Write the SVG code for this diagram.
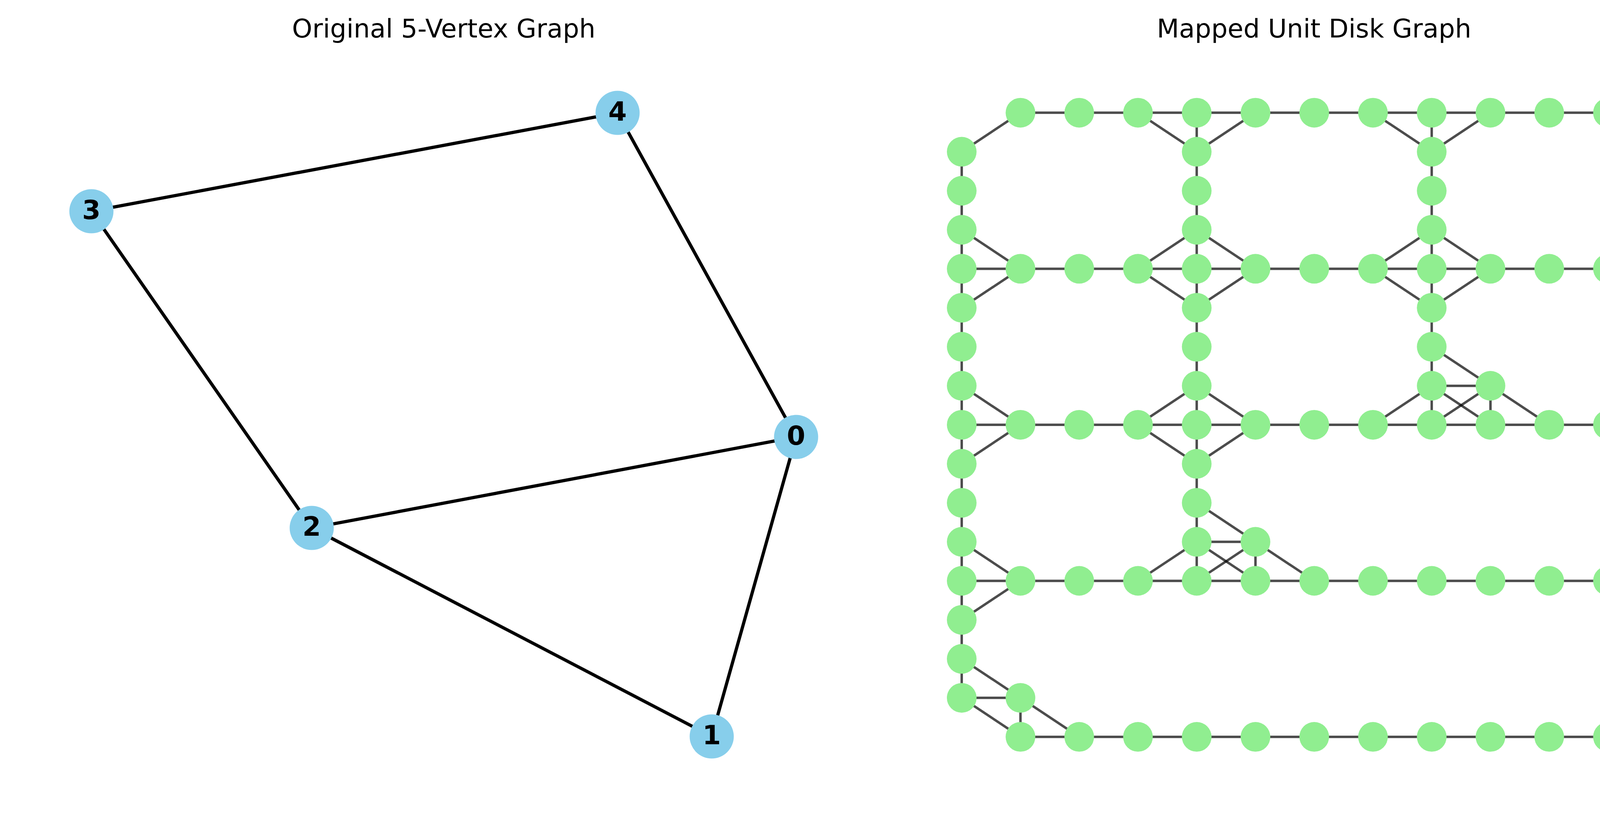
<svg xmlns="http://www.w3.org/2000/svg" width="4500" height="2100" viewBox="0 0 4500 2100">
<style>
.title{font-family:"DejaVu Sans","Liberation Sans",sans-serif;font-size:66px;fill:#000;text-anchor:middle}
.lbl{font-family:"DejaVu Sans","Liberation Sans",sans-serif;font-size:68px;font-weight:bold;fill:#000;text-anchor:middle}
.e1 line{stroke:#000;stroke-width:8.3}
.e2 line{stroke:#000;stroke-opacity:0.7;stroke-width:6.25}
.n1{fill:#87CEEB}
.n2{fill:#90EE90}
</style>
<rect width="4500" height="2100" fill="#fff"/>
<text class="title" x="1136" y="96">Original 5-Vertex Graph</text>
<text class="title" x="3364" y="96">Mapped Unit Disk Graph</text>

<g id="edges-original" class="e1">
<line x1="234" y1="541" x2="1581" y2="289"/>
<line x1="1581" y1="289" x2="2038" y2="1119"/>
<line x1="234" y1="541" x2="798" y2="1352"/>
<line x1="798" y1="1352" x2="2038" y2="1119"/>
<line x1="798" y1="1352" x2="1822" y2="1886"/>
<line x1="2038" y1="1119" x2="1822" y2="1886"/>
</g>
<g id="v0"><circle class="n1" cx="2038" cy="1119" r="56.5"/><text class="lbl" x="2038" y="1139">0</text></g>
<g id="v1"><circle class="n1" cx="1822" cy="1886" r="56.5"/><text class="lbl" x="1822" y="1906">1</text></g>
<g id="v2"><circle class="n1" cx="798" cy="1352" r="56.5"/><text class="lbl" x="798" y="1372">2</text></g>
<g id="v3"><circle class="n1" cx="234" cy="541" r="56.5"/><text class="lbl" x="234" y="561">3</text></g>
<g id="v4"><circle class="n1" cx="1581" cy="289" r="56.5"/><text class="lbl" x="1581" y="309">4</text></g>

<g id="edges-udg" class="e2">
<!-- row 0 -->
<line x1="2612.4" y1="288.7" x2="2762.8" y2="288.7"/>
<line x1="2762.8" y1="288.7" x2="2913.2" y2="288.7"/>
<line x1="2913.2" y1="288.7" x2="3063.6" y2="288.7"/>
<line x1="3063.6" y1="288.7" x2="3214" y2="288.7"/>
<line x1="3214" y1="288.7" x2="3364.4" y2="288.7"/>
<line x1="3364.4" y1="288.7" x2="3514.8" y2="288.7"/>
<line x1="3514.8" y1="288.7" x2="3665.2" y2="288.7"/>
<line x1="3665.2" y1="288.7" x2="3815.6" y2="288.7"/>
<line x1="3815.6" y1="288.7" x2="3966" y2="288.7"/>
<line x1="3966" y1="288.7" x2="4116.4" y2="288.7"/>
<line x1="4116.4" y1="288.7" x2="4266.8" y2="288.7"/>
<!-- row 4 -->
<line x1="2462" y1="688.3" x2="2612.4" y2="688.3"/>
<line x1="2612.4" y1="688.3" x2="2762.8" y2="688.3"/>
<line x1="2762.8" y1="688.3" x2="2913.2" y2="688.3"/>
<line x1="2913.2" y1="688.3" x2="3063.6" y2="688.3"/>
<line x1="3063.6" y1="688.3" x2="3214" y2="688.3"/>
<line x1="3214" y1="688.3" x2="3364.4" y2="688.3"/>
<line x1="3364.4" y1="688.3" x2="3514.8" y2="688.3"/>
<line x1="3514.8" y1="688.3" x2="3665.2" y2="688.3"/>
<line x1="3665.2" y1="688.3" x2="3815.6" y2="688.3"/>
<line x1="3815.6" y1="688.3" x2="3966" y2="688.3"/>
<line x1="3966" y1="688.3" x2="4116.4" y2="688.3"/>
<line x1="4116.4" y1="688.3" x2="4266.8" y2="688.3"/>
<!-- row 8 -->
<line x1="2462" y1="1087.9" x2="2612.4" y2="1087.9"/>
<line x1="2612.4" y1="1087.9" x2="2762.8" y2="1087.9"/>
<line x1="2762.8" y1="1087.9" x2="2913.2" y2="1087.9"/>
<line x1="2913.2" y1="1087.9" x2="3063.6" y2="1087.9"/>
<line x1="3063.6" y1="1087.9" x2="3214" y2="1087.9"/>
<line x1="3214" y1="1087.9" x2="3364.4" y2="1087.9"/>
<line x1="3364.4" y1="1087.9" x2="3514.8" y2="1087.9"/>
<line x1="3514.8" y1="1087.9" x2="3665.2" y2="1087.9"/>
<line x1="3665.2" y1="1087.9" x2="3815.6" y2="1087.9"/>
<line x1="3815.6" y1="1087.9" x2="3966" y2="1087.9"/>
<line x1="3966" y1="1087.9" x2="4116.4" y2="1087.9"/>
<line x1="4116.4" y1="1087.9" x2="4266.8" y2="1087.9"/>
<!-- row 12 -->
<line x1="2462" y1="1487.5" x2="2612.4" y2="1487.5"/>
<line x1="2612.4" y1="1487.5" x2="2762.8" y2="1487.5"/>
<line x1="2762.8" y1="1487.5" x2="2913.2" y2="1487.5"/>
<line x1="2913.2" y1="1487.5" x2="3063.6" y2="1487.5"/>
<line x1="3063.6" y1="1487.5" x2="3214" y2="1487.5"/>
<line x1="3214" y1="1487.5" x2="3364.4" y2="1487.5"/>
<line x1="3364.4" y1="1487.5" x2="3514.8" y2="1487.5"/>
<line x1="3514.8" y1="1487.5" x2="3665.2" y2="1487.5"/>
<line x1="3665.2" y1="1487.5" x2="3815.6" y2="1487.5"/>
<line x1="3815.6" y1="1487.5" x2="3966" y2="1487.5"/>
<line x1="3966" y1="1487.5" x2="4116.4" y2="1487.5"/>
<line x1="4116.4" y1="1487.5" x2="4266.8" y2="1487.5"/>
<!-- row 16 -->
<line x1="2612.4" y1="1887.1" x2="2762.8" y2="1887.1"/>
<line x1="2762.8" y1="1887.1" x2="2913.2" y2="1887.1"/>
<line x1="2913.2" y1="1887.1" x2="3063.6" y2="1887.1"/>
<line x1="3063.6" y1="1887.1" x2="3214" y2="1887.1"/>
<line x1="3214" y1="1887.1" x2="3364.4" y2="1887.1"/>
<line x1="3364.4" y1="1887.1" x2="3514.8" y2="1887.1"/>
<line x1="3514.8" y1="1887.1" x2="3665.2" y2="1887.1"/>
<line x1="3665.2" y1="1887.1" x2="3815.6" y2="1887.1"/>
<line x1="3815.6" y1="1887.1" x2="3966" y2="1887.1"/>
<line x1="3966" y1="1887.1" x2="4116.4" y2="1887.1"/>
<line x1="4116.4" y1="1887.1" x2="4266.8" y2="1887.1"/>
<!-- short horizontals -->
<line x1="3665.2" y1="988" x2="3815.6" y2="988"/>
<line x1="3063.6" y1="1387.6" x2="3214" y2="1387.6"/>
<line x1="2462" y1="1787.2" x2="2612.4" y2="1787.2"/>
<!-- col 0 -->
<line x1="2462" y1="388.6" x2="2462" y2="488.5"/>
<line x1="2462" y1="488.5" x2="2462" y2="588.4"/>
<line x1="2462" y1="588.4" x2="2462" y2="688.3"/>
<line x1="2462" y1="688.3" x2="2462" y2="788.2"/>
<line x1="2462" y1="788.2" x2="2462" y2="888.1"/>
<line x1="2462" y1="888.1" x2="2462" y2="988"/>
<line x1="2462" y1="988" x2="2462" y2="1087.9"/>
<line x1="2462" y1="1087.9" x2="2462" y2="1187.8"/>
<line x1="2462" y1="1187.8" x2="2462" y2="1287.7"/>
<line x1="2462" y1="1287.7" x2="2462" y2="1387.6"/>
<line x1="2462" y1="1387.6" x2="2462" y2="1487.5"/>
<line x1="2462" y1="1487.5" x2="2462" y2="1587.4"/>
<line x1="2462" y1="1587.4" x2="2462" y2="1687.3"/>
<line x1="2462" y1="1687.3" x2="2462" y2="1787.2"/>
<!-- col 4 -->
<line x1="3063.6" y1="288.7" x2="3063.6" y2="388.6"/>
<line x1="3063.6" y1="388.6" x2="3063.6" y2="488.5"/>
<line x1="3063.6" y1="488.5" x2="3063.6" y2="588.4"/>
<line x1="3063.6" y1="588.4" x2="3063.6" y2="688.3"/>
<line x1="3063.6" y1="688.3" x2="3063.6" y2="788.2"/>
<line x1="3063.6" y1="788.2" x2="3063.6" y2="888.1"/>
<line x1="3063.6" y1="888.1" x2="3063.6" y2="988"/>
<line x1="3063.6" y1="988" x2="3063.6" y2="1087.9"/>
<line x1="3063.6" y1="1087.9" x2="3063.6" y2="1187.8"/>
<line x1="3063.6" y1="1187.8" x2="3063.6" y2="1287.7"/>
<line x1="3063.6" y1="1287.7" x2="3063.6" y2="1387.6"/>
<line x1="3063.6" y1="1387.6" x2="3063.6" y2="1487.5"/>
<!-- col 8 -->
<line x1="3665.2" y1="288.7" x2="3665.2" y2="388.6"/>
<line x1="3665.2" y1="388.6" x2="3665.2" y2="488.5"/>
<line x1="3665.2" y1="488.5" x2="3665.2" y2="588.4"/>
<line x1="3665.2" y1="588.4" x2="3665.2" y2="688.3"/>
<line x1="3665.2" y1="688.3" x2="3665.2" y2="788.2"/>
<line x1="3665.2" y1="788.2" x2="3665.2" y2="888.1"/>
<line x1="3665.2" y1="888.1" x2="3665.2" y2="988"/>
<line x1="3665.2" y1="988" x2="3665.2" y2="1087.9"/>
<!-- col 12 -->
<line x1="4266.8" y1="288.7" x2="4266.8" y2="388.6"/>
<line x1="4266.8" y1="388.6" x2="4266.8" y2="488.5"/>
<line x1="4266.8" y1="488.5" x2="4266.8" y2="588.4"/>
<line x1="4266.8" y1="588.4" x2="4266.8" y2="688.3"/>
<!-- short verticals -->
<line x1="2612.4" y1="1787.2" x2="2612.4" y2="1887.1"/>
<line x1="3214" y1="1387.6" x2="3214" y2="1487.5"/>
<line x1="3815.6" y1="988" x2="3815.6" y2="1087.9"/>
<!-- diagonals -->
<line x1="2612.4" y1="288.7" x2="2462" y2="388.6"/>
<line x1="2913.2" y1="288.7" x2="3063.6" y2="388.6"/>
<line x1="3214" y1="288.7" x2="3063.6" y2="388.6"/>
<line x1="3514.8" y1="288.7" x2="3665.2" y2="388.6"/>
<line x1="3815.6" y1="288.7" x2="3665.2" y2="388.6"/>
<line x1="4116.4" y1="288.7" x2="4266.8" y2="388.6"/>
<line x1="2462" y1="588.4" x2="2612.4" y2="688.3"/>
<line x1="3063.6" y1="588.4" x2="2913.2" y2="688.3"/>
<line x1="3063.6" y1="588.4" x2="3214" y2="688.3"/>
<line x1="3665.2" y1="588.4" x2="3514.8" y2="688.3"/>
<line x1="3665.2" y1="588.4" x2="3815.6" y2="688.3"/>
<line x1="4266.8" y1="588.4" x2="4116.4" y2="688.3"/>
<line x1="2462" y1="788.2" x2="2612.4" y2="688.3"/>
<line x1="3063.6" y1="788.2" x2="2913.2" y2="688.3"/>
<line x1="3063.6" y1="788.2" x2="3214" y2="688.3"/>
<line x1="3665.2" y1="788.2" x2="3514.8" y2="688.3"/>
<line x1="3665.2" y1="788.2" x2="3815.6" y2="688.3"/>
<line x1="3665.2" y1="888.1" x2="3815.6" y2="988"/>
<line x1="2462" y1="988" x2="2612.4" y2="1087.9"/>
<line x1="3063.6" y1="988" x2="2913.2" y2="1087.9"/>
<line x1="3063.6" y1="988" x2="3214" y2="1087.9"/>
<line x1="3665.2" y1="988" x2="3514.8" y2="1087.9"/>
<line x1="3665.2" y1="988" x2="3815.6" y2="1087.9"/>
<line x1="3815.6" y1="988" x2="3665.2" y2="1087.9"/>
<line x1="3815.6" y1="988" x2="3966" y2="1087.9"/>
<line x1="2462" y1="1187.8" x2="2612.4" y2="1087.9"/>
<line x1="3063.6" y1="1187.8" x2="2913.2" y2="1087.9"/>
<line x1="3063.6" y1="1187.8" x2="3214" y2="1087.9"/>
<line x1="3063.6" y1="1287.7" x2="3214" y2="1387.6"/>
<line x1="2462" y1="1387.6" x2="2612.4" y2="1487.5"/>
<line x1="3063.6" y1="1387.6" x2="2913.2" y2="1487.5"/>
<line x1="3063.6" y1="1387.6" x2="3214" y2="1487.5"/>
<line x1="3214" y1="1387.6" x2="3063.6" y2="1487.5"/>
<line x1="3214" y1="1387.6" x2="3364.4" y2="1487.5"/>
<line x1="2462" y1="1587.4" x2="2612.4" y2="1487.5"/>
<line x1="2462" y1="1687.3" x2="2612.4" y2="1787.2"/>
<line x1="2462" y1="1787.2" x2="2612.4" y2="1887.1"/>
<line x1="2612.4" y1="1787.2" x2="2762.8" y2="1887.1"/>
</g>

<g id="nodes-udg">
<g id="u0_1"><circle class="n2" cx="2612.4" cy="288.7" r="38"/></g>
<g id="u0_2"><circle class="n2" cx="2762.8" cy="288.7" r="38"/></g>
<g id="u0_3"><circle class="n2" cx="2913.2" cy="288.7" r="38"/></g>
<g id="u0_4"><circle class="n2" cx="3063.6" cy="288.7" r="38"/></g>
<g id="u0_5"><circle class="n2" cx="3214" cy="288.7" r="38"/></g>
<g id="u0_6"><circle class="n2" cx="3364.4" cy="288.7" r="38"/></g>
<g id="u0_7"><circle class="n2" cx="3514.8" cy="288.7" r="38"/></g>
<g id="u0_8"><circle class="n2" cx="3665.2" cy="288.7" r="38"/></g>
<g id="u0_9"><circle class="n2" cx="3815.6" cy="288.7" r="38"/></g>
<g id="u0_10"><circle class="n2" cx="3966" cy="288.7" r="38"/></g>
<g id="u0_11"><circle class="n2" cx="4116.4" cy="288.7" r="38"/></g>
<g id="u0_12"><circle class="n2" cx="4266.8" cy="288.7" r="38"/></g>
<g id="u1_0"><circle class="n2" cx="2462" cy="388.6" r="38"/></g>
<g id="u1_4"><circle class="n2" cx="3063.6" cy="388.6" r="38"/></g>
<g id="u1_8"><circle class="n2" cx="3665.2" cy="388.6" r="38"/></g>
<g id="u1_12"><circle class="n2" cx="4266.8" cy="388.6" r="38"/></g>
<g id="u2_0"><circle class="n2" cx="2462" cy="488.5" r="38"/></g>
<g id="u2_4"><circle class="n2" cx="3063.6" cy="488.5" r="38"/></g>
<g id="u2_8"><circle class="n2" cx="3665.2" cy="488.5" r="38"/></g>
<g id="u2_12"><circle class="n2" cx="4266.8" cy="488.5" r="38"/></g>
<g id="u3_0"><circle class="n2" cx="2462" cy="588.4" r="38"/></g>
<g id="u3_4"><circle class="n2" cx="3063.6" cy="588.4" r="38"/></g>
<g id="u3_8"><circle class="n2" cx="3665.2" cy="588.4" r="38"/></g>
<g id="u3_12"><circle class="n2" cx="4266.8" cy="588.4" r="38"/></g>
<g id="u4_0"><circle class="n2" cx="2462" cy="688.3" r="38"/></g>
<g id="u4_1"><circle class="n2" cx="2612.4" cy="688.3" r="38"/></g>
<g id="u4_2"><circle class="n2" cx="2762.8" cy="688.3" r="38"/></g>
<g id="u4_3"><circle class="n2" cx="2913.2" cy="688.3" r="38"/></g>
<g id="u4_4"><circle class="n2" cx="3063.6" cy="688.3" r="38"/></g>
<g id="u4_5"><circle class="n2" cx="3214" cy="688.3" r="38"/></g>
<g id="u4_6"><circle class="n2" cx="3364.4" cy="688.3" r="38"/></g>
<g id="u4_7"><circle class="n2" cx="3514.8" cy="688.3" r="38"/></g>
<g id="u4_8"><circle class="n2" cx="3665.2" cy="688.3" r="38"/></g>
<g id="u4_9"><circle class="n2" cx="3815.6" cy="688.3" r="38"/></g>
<g id="u4_10"><circle class="n2" cx="3966" cy="688.3" r="38"/></g>
<g id="u4_11"><circle class="n2" cx="4116.4" cy="688.3" r="38"/></g>
<g id="u4_12"><circle class="n2" cx="4266.8" cy="688.3" r="38"/></g>
<g id="u5_0"><circle class="n2" cx="2462" cy="788.2" r="38"/></g>
<g id="u5_4"><circle class="n2" cx="3063.6" cy="788.2" r="38"/></g>
<g id="u5_8"><circle class="n2" cx="3665.2" cy="788.2" r="38"/></g>
<g id="u6_0"><circle class="n2" cx="2462" cy="888.1" r="38"/></g>
<g id="u6_4"><circle class="n2" cx="3063.6" cy="888.1" r="38"/></g>
<g id="u6_8"><circle class="n2" cx="3665.2" cy="888.1" r="38"/></g>
<g id="u7_0"><circle class="n2" cx="2462" cy="988" r="38"/></g>
<g id="u7_4"><circle class="n2" cx="3063.6" cy="988" r="38"/></g>
<g id="u7_8"><circle class="n2" cx="3665.2" cy="988" r="38"/></g>
<g id="u7_9"><circle class="n2" cx="3815.6" cy="988" r="38"/></g>
<g id="u8_0"><circle class="n2" cx="2462" cy="1087.9" r="38"/></g>
<g id="u8_1"><circle class="n2" cx="2612.4" cy="1087.9" r="38"/></g>
<g id="u8_2"><circle class="n2" cx="2762.8" cy="1087.9" r="38"/></g>
<g id="u8_3"><circle class="n2" cx="2913.2" cy="1087.9" r="38"/></g>
<g id="u8_4"><circle class="n2" cx="3063.6" cy="1087.9" r="38"/></g>
<g id="u8_5"><circle class="n2" cx="3214" cy="1087.9" r="38"/></g>
<g id="u8_6"><circle class="n2" cx="3364.4" cy="1087.9" r="38"/></g>
<g id="u8_7"><circle class="n2" cx="3514.8" cy="1087.9" r="38"/></g>
<g id="u8_8"><circle class="n2" cx="3665.2" cy="1087.9" r="38"/></g>
<g id="u8_9"><circle class="n2" cx="3815.6" cy="1087.9" r="38"/></g>
<g id="u8_10"><circle class="n2" cx="3966" cy="1087.9" r="38"/></g>
<g id="u8_11"><circle class="n2" cx="4116.4" cy="1087.9" r="38"/></g>
<g id="u8_12"><circle class="n2" cx="4266.8" cy="1087.9" r="38"/></g>
<g id="u9_0"><circle class="n2" cx="2462" cy="1187.8" r="38"/></g>
<g id="u9_4"><circle class="n2" cx="3063.6" cy="1187.8" r="38"/></g>
<g id="u10_0"><circle class="n2" cx="2462" cy="1287.7" r="38"/></g>
<g id="u10_4"><circle class="n2" cx="3063.6" cy="1287.7" r="38"/></g>
<g id="u11_0"><circle class="n2" cx="2462" cy="1387.6" r="38"/></g>
<g id="u11_4"><circle class="n2" cx="3063.6" cy="1387.6" r="38"/></g>
<g id="u11_5"><circle class="n2" cx="3214" cy="1387.6" r="38"/></g>
<g id="u12_0"><circle class="n2" cx="2462" cy="1487.5" r="38"/></g>
<g id="u12_1"><circle class="n2" cx="2612.4" cy="1487.5" r="38"/></g>
<g id="u12_2"><circle class="n2" cx="2762.8" cy="1487.5" r="38"/></g>
<g id="u12_3"><circle class="n2" cx="2913.2" cy="1487.5" r="38"/></g>
<g id="u12_4"><circle class="n2" cx="3063.6" cy="1487.5" r="38"/></g>
<g id="u12_5"><circle class="n2" cx="3214" cy="1487.5" r="38"/></g>
<g id="u12_6"><circle class="n2" cx="3364.4" cy="1487.5" r="38"/></g>
<g id="u12_7"><circle class="n2" cx="3514.8" cy="1487.5" r="38"/></g>
<g id="u12_8"><circle class="n2" cx="3665.2" cy="1487.5" r="38"/></g>
<g id="u12_9"><circle class="n2" cx="3815.6" cy="1487.5" r="38"/></g>
<g id="u12_10"><circle class="n2" cx="3966" cy="1487.5" r="38"/></g>
<g id="u12_11"><circle class="n2" cx="4116.4" cy="1487.5" r="38"/></g>
<g id="u12_12"><circle class="n2" cx="4266.8" cy="1487.5" r="38"/></g>
<g id="u13_0"><circle class="n2" cx="2462" cy="1587.4" r="38"/></g>
<g id="u14_0"><circle class="n2" cx="2462" cy="1687.3" r="38"/></g>
<g id="u15_0"><circle class="n2" cx="2462" cy="1787.2" r="38"/></g>
<g id="u15_1"><circle class="n2" cx="2612.4" cy="1787.2" r="38"/></g>
<g id="u16_1"><circle class="n2" cx="2612.4" cy="1887.1" r="38"/></g>
<g id="u16_2"><circle class="n2" cx="2762.8" cy="1887.1" r="38"/></g>
<g id="u16_3"><circle class="n2" cx="2913.2" cy="1887.1" r="38"/></g>
<g id="u16_4"><circle class="n2" cx="3063.6" cy="1887.1" r="38"/></g>
<g id="u16_5"><circle class="n2" cx="3214" cy="1887.1" r="38"/></g>
<g id="u16_6"><circle class="n2" cx="3364.4" cy="1887.1" r="38"/></g>
<g id="u16_7"><circle class="n2" cx="3514.8" cy="1887.1" r="38"/></g>
<g id="u16_8"><circle class="n2" cx="3665.2" cy="1887.1" r="38"/></g>
<g id="u16_9"><circle class="n2" cx="3815.6" cy="1887.1" r="38"/></g>
<g id="u16_10"><circle class="n2" cx="3966" cy="1887.1" r="38"/></g>
<g id="u16_11"><circle class="n2" cx="4116.4" cy="1887.1" r="38"/></g>
<g id="u16_12"><circle class="n2" cx="4266.8" cy="1887.1" r="38"/></g>
</g>
</svg>
